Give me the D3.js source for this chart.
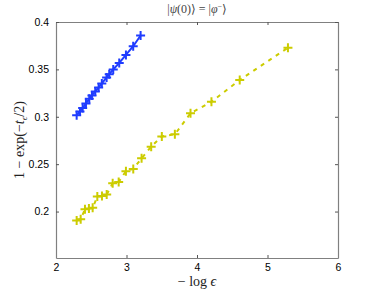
<!DOCTYPE html>
<html>
<head>
<meta charset="utf-8">
<script src="https://cdn.jsdelivr.net/npm/d3@7"></script>
<style>
  body { margin: 0; background: #fff; }
  svg { display: block; }
</style>
</head>
<body>
<div id="chart"></div>
<script>
// data
const blueX = [2.293, 2.340, 2.378, 2.425, 2.472, 2.510, 2.557, 2.605, 2.650, 2.718, 2.755, 2.812, 2.897, 2.992, 3.095, 3.200];
const blueY = [0.3015, 0.3057, 0.3092, 0.3141, 0.3189, 0.3225, 0.3267, 0.3309, 0.3352, 0.3415, 0.3449, 0.3499, 0.3568, 0.3653, 0.3744, 0.3857];
const yellowX = [2.293, 2.350, 2.411, 2.467, 2.520, 2.586, 2.652, 2.719, 2.804, 2.889, 2.992, 3.096, 3.214, 3.350, 3.501, 3.686, 3.908, 4.205, 4.606, 5.290];
const yellowY = [0.1905, 0.1920, 0.2025, 0.2031, 0.2039, 0.2158, 0.2165, 0.2179, 0.2299, 0.2313, 0.2426, 0.2450, 0.2562, 0.2685, 0.2792, 0.2815, 0.3037, 0.3159, 0.3388, 0.3728];
const xTicks = [2, 3, 4, 5, 6];
const yTicks = [0.2, 0.25, 0.3, 0.35, 0.4];

const width = 374, height = 292;
const margin = { top: 22, right: 36, bottom: 34, left: 56 };

const svg = d3.select('#chart').append('svg')
  .attr('width', width)
  .attr('height', height);

const x = d3.scaleLinear().domain([2, 6]).range([margin.left, width - margin.right]);
const y = d3.scaleLinear().domain([0.151, 0.4]).range([height - margin.bottom, margin.top]);

const axisColor = '#808080';
const tickFont = '"Liberation Sans", Arial, sans-serif';

// axes, ticks pointing inward on all four sides (matlab box)
const axBottom = svg.append('g').attr('transform', `translate(0,${y.range()[0]})`)
  .call(d3.axisBottom(x).tickValues(xTicks).tickSizeInner(-3).tickSizeOuter(0).tickPadding(6).tickFormat(d3.format('d')));
const axTop = svg.append('g').attr('transform', `translate(0,${y.range()[1]})`)
  .call(d3.axisTop(x).tickValues(xTicks).tickSizeInner(-3).tickSizeOuter(0).tickFormat(''));
const axLeft = svg.append('g').attr('transform', `translate(${x.range()[0]},0)`)
  .call(d3.axisLeft(y).tickValues(yTicks).tickSizeInner(-3).tickSizeOuter(0).tickPadding(7).tickFormat(d => String(+d.toFixed(2))));
const axRight = svg.append('g').attr('transform', `translate(${x.range()[1]},0)`)
  .call(d3.axisRight(y).tickValues(yTicks).tickSizeInner(-3).tickSizeOuter(0).tickFormat(''));

[axBottom, axTop, axLeft, axRight].forEach(g => {
  g.select('.domain').attr('stroke', axisColor).attr('stroke-width', 1.2);
  g.selectAll('.tick line').attr('stroke', '#555');
  g.selectAll('.tick text').attr('fill', '#000').style('font-family', tickFont).style('font-size', '10.5px');
});

// series
const blue = blueX.map((v, i) => ({ x: v, y: blueY[i] }));
const yellow = yellowX.map((v, i) => ({ x: v, y: yellowY[i] }));

const line = d3.line().x(d => x(d.x)).y(d => y(d.y));

function drawSeries(data, color, dashed) {
  svg.append('path')
    .datum(data)
    .attr('fill', 'none')
    .attr('stroke', color)
    .attr('stroke-width', 2)
    .attr('stroke-dasharray', dashed ? '4,5' : null)
    .attr('d', line);

  // '+' markers
  svg.selectAll(null)
    .data(data)
    .enter().append('path')
    .attr('d', d => {
      const cx = x(d.x), cy = y(d.y), r = 4.5;
      return `M${cx - r},${cy}H${cx + r}M${cx},${cy - r}V${cy + r}`;
    })
    .attr('stroke', color)
    .attr('stroke-width', 2)
    .attr('fill', 'none');
}

drawSeries(blue, '#1f3cff', false);
drawSeries(yellow, '#cccc00', true);

// labels
const serif = '"Liberation Serif", "DejaVu Serif", serif';
const midX = (x.range()[0] + x.range()[1]) / 2;

const title = svg.append('text')
  .attr('x', midX).attr('y', 13)
  .attr('text-anchor', 'middle')
  .attr('fill', '#444')
  .style('font-family', serif).style('font-size', '12px');
title.append('tspan').text('|');
title.append('tspan').style('font-style', 'italic').text('ψ');
title.append('tspan').text('(0)⟩ = |');
title.append('tspan').style('font-style', 'italic').text('φ');
title.append('tspan').attr('dy', -4).style('font-size', '8px').text('−');
title.append('tspan').attr('dy', 4).text('⟩');

const xl = svg.append('text')
  .attr('x', midX).attr('y', 286)
  .attr('text-anchor', 'middle')
  .attr('fill', '#222')
  .style('font-family', serif).style('font-size', '14px');
xl.append('tspan').text('− log ');
xl.append('tspan').style('font-style', 'italic').text('ϵ');

const yl = svg.append('text')
  .attr('transform', `translate(24,${(y.range()[0] + y.range()[1]) / 2}) rotate(-90)`)
  .attr('text-anchor', 'middle')
  .attr('fill', '#222')
  .style('font-family', serif).style('font-size', '14px');
yl.append('tspan').text('1 − exp(−');
yl.append('tspan').style('font-style', 'italic').text('t');
yl.append('tspan').attr('dy', 3).style('font-size', '9px').style('font-style', 'italic').text('ϵ');
yl.append('tspan').attr('dy', -3).text('/2)');
</script>
</body>
</html>
